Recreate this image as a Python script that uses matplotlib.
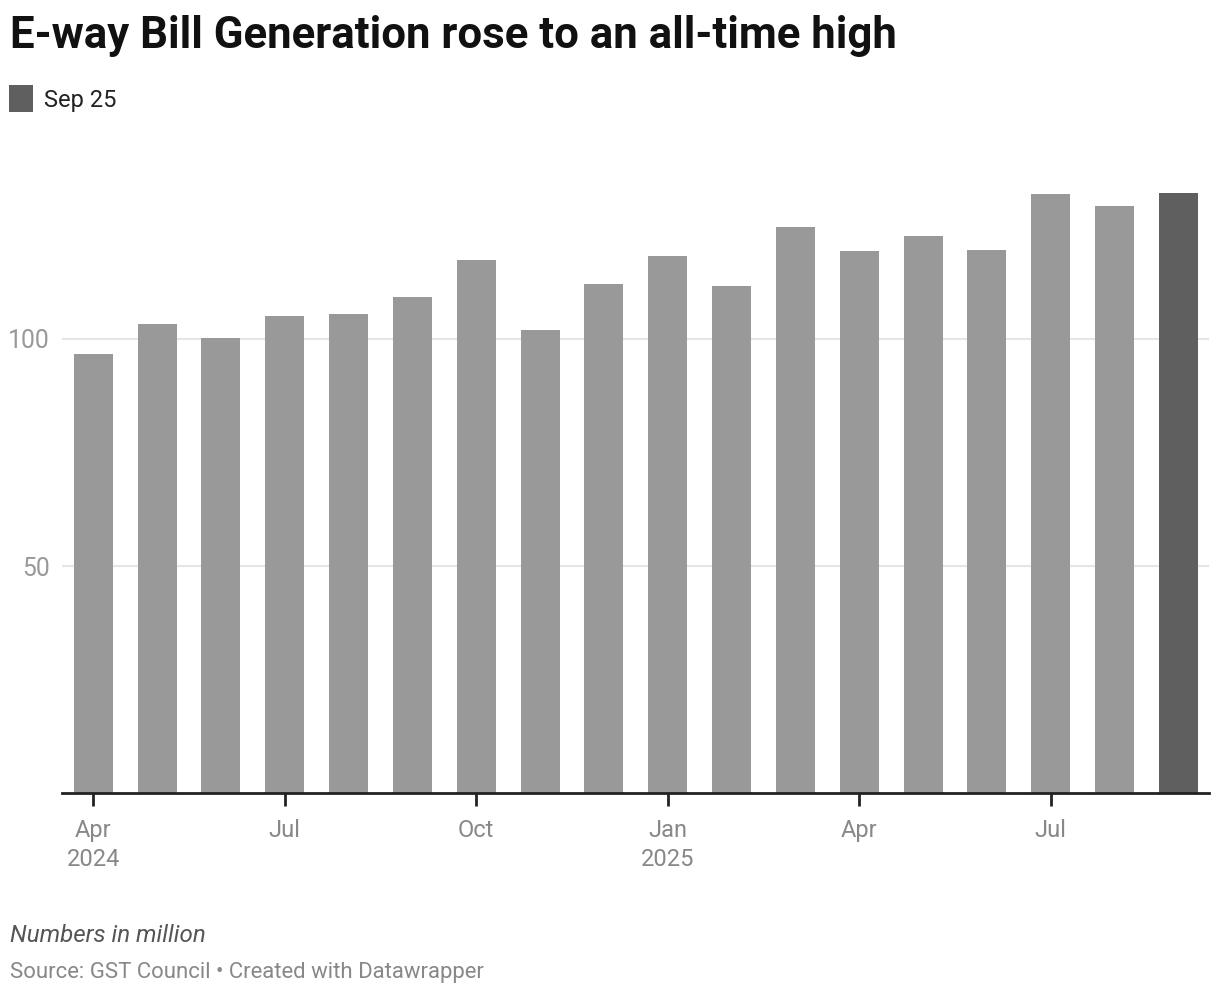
import matplotlib
matplotlib.use("Agg")
import matplotlib.pyplot as plt
from matplotlib.patches import Rectangle

months = ["Apr 2024", "May 2024", "Jun 2024", "Jul 2024", "Aug 2024", "Sep 2024",
          "Oct 2024", "Nov 2024", "Dec 2024", "Jan 2025", "Feb 2025", "Mar 2025",
          "Apr 2025", "May 2025", "Jun 2025", "Jul 2025", "Aug 2025", "Sep 2025"]
values = [96.6, 103.3, 100.2, 105.1, 105.5, 109.3, 117.4, 102.0, 112.1, 118.3,
          111.7, 124.7, 119.4, 122.7, 119.6, 131.9, 129.3, 132.2]
highlight = "Sep 2025"
tick_months = ["Apr 2024", "Jul 2024", "Oct 2024", "Jan 2025", "Apr 2025", "Jul 2025"]
tick_labels = ["Apr\n2024", "Jul", "Oct", "Jan\n2025", "Apr", "Jul"]
y_ticks = [50, 100]
legend_label = "Sep 25"

plt.rcParams['font.family'] = ['Roboto', 'DejaVu Sans']

W, H = 1220, 994
fig = plt.figure(figsize=(W / 100, H / 100), dpi=100)
ax_left, ax_right, ax_bottom, ax_top = 62, 1209, 793, 170
ax = fig.add_axes([ax_left / W, 1 - ax_bottom / H, (ax_right - ax_left) / W, (ax_bottom - ax_top) / H])

x = list(range(len(months)))
colors = ["#5f5f5f" if m == highlight else "#999999" for m in months]
ax.bar(x, values, width=0.61, color=colors, zorder=2)

ax.set_xlim(-0.49, len(months) - 0.52)
ax.set_ylim(0, 100 * (ax_bottom - ax_top) / (793 - 339))

ax.set_yticks(y_ticks)
ax.set_yticklabels([str(v) for v in y_ticks])
ax.yaxis.grid(True, color="#e6e6e6", linewidth=1.5, zorder=0)
ax.tick_params(axis='y', length=0, pad=9, labelsize=17.8, labelcolor="#999999")

ax.set_xticks([months.index(m) for m in tick_months])
ax.set_xticklabels(tick_labels, linespacing=1.32)
ax.tick_params(axis='x', length=9, width=2, color="#222222", pad=10,
               labelsize=17, labelcolor="#888888")

for s in ["top", "right", "left"]:
    ax.spines[s].set_visible(False)
ax.spines["bottom"].set_color("#222222")
ax.spines["bottom"].set_linewidth(2)
ax.spines["bottom"].set_zorder(3)

fig.text(10 / W, 1 - 48 / H, "E-way Bill Generation rose to an all-time high",
         fontsize=31.5, fontweight="bold", color="#111111", va="baseline", ha="left")

fig.patches.append(Rectangle((9 / W, 1 - 112 / H), 24 / W, 27 / H,
                             transform=fig.transFigure, facecolor="#5f5f5f", edgecolor="none"))
fig.text(44 / W, 1 - 107 / H, legend_label, fontsize=17, color="#222222", va="baseline", ha="left")

fig.text(10 / W, 1 - 942 / H, "Numbers in million", fontsize=17.4, style="italic",
         color="#555555", va="baseline", ha="left")
fig.text(10 / W, 1 - 978 / H, "Source: GST Council \u2022 Created with Datawrapper", fontsize=15.9,
         color="#888888", va="baseline", ha="left")

fig.savefig("out.png", dpi=100, facecolor="white")
